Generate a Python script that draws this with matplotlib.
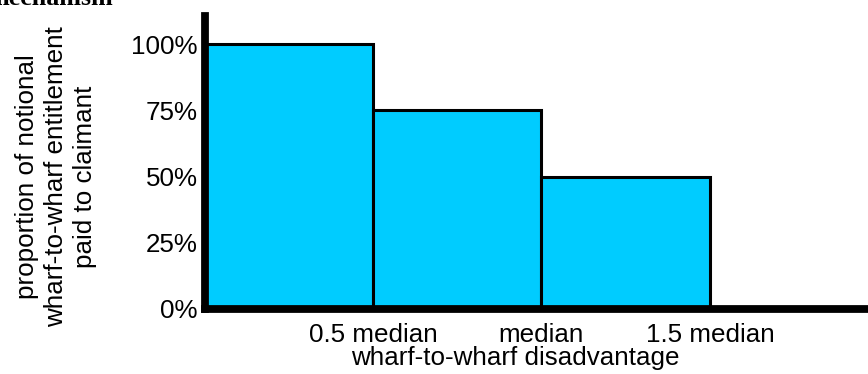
import matplotlib
matplotlib.use("Agg")
import matplotlib.pyplot as plt

# band edges (in multiples of the median) and share paid in each band
band_start = [0.0, 0.5, 1.0]
band_width = 0.5
proportion_paid = [1.00, 0.75, 0.50]

x_tick_pos = [0.5, 1.0, 1.5]
x_tick_labels = ["0.5 median", "median", "1.5 median"]
y_tick_pos = [0.0, 0.25, 0.50, 0.75, 1.00]
y_tick_labels = ["0%", "25%", "50%", "75%", "100%"]


def main():
    plt.rcParams["font.family"] = ["Liberation Sans", "DejaVu Sans"]
    fs = 18.7

    fig = plt.figure(figsize=(8.68, 3.74), dpi=100)
    ax = fig.add_axes([204.5 / 868, 65 / 374, 1 - 204.5 / 868, 293 / 374])

    ax.bar(band_start, proportion_paid, width=band_width, align="edge",
           color="#00CCFF", edgecolor="black", linewidth=2.2, zorder=2)

    ax.set_xlim(0, 1.969)
    ax.set_ylim(0, 1.106)

    for side in ("top", "right"):
        ax.spines[side].set_visible(False)
    for side in ("left", "bottom"):
        ax.spines[side].set_linewidth(5.6)
        ax.spines[side].set_zorder(3)
        ax.spines[side].set_capstyle("projecting")

    ax.set_xticks(x_tick_pos)
    ax.set_xticklabels(x_tick_labels, fontsize=fs)
    ax.set_yticks(y_tick_pos)
    ax.set_yticklabels(y_tick_labels, fontsize=fs)
    ax.tick_params(axis="x", length=0, pad=10)
    ax.tick_params(axis="y", length=0, pad=5)

    fig.text(515 / 868, 1 - 358 / 374, "wharf-to-wharf disadvantage",
             ha="center", va="center", fontsize=fs)
    fig.text(56 / 868, 1 - 177 / 374,
             "proportion of notional\nwharf-to-wharf entitlement\npaid to claimant",
             rotation=90, ha="center", va="center", multialignment="center",
             fontsize=fs, linespacing=1.27)

    # title line, mostly above the visible area
    fig.text(113 / 868, 1 - 5 / 374, "mechanism", ha="right", va="baseline",
             fontsize=fs, fontweight="bold", family="Liberation Serif")

    fig.savefig("out.png", dpi=100)


if __name__ == "__main__":
    main()
